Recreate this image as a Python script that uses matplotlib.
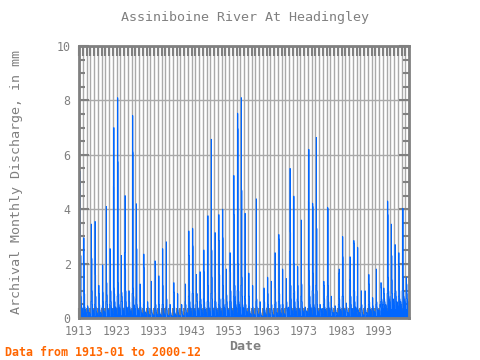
# -*- coding: utf-8 -*-
"""
Assiniboine River At Headingley - archival monthly discharge
"""
import matplotlib
matplotlib.use('Agg')
import matplotlib.pyplot as plt
import numpy as np

# monthly discharge (mm), one row per year, Jan..Dec
flow_1910s = [
    [.2, .15, 1.3, 5.4, 2.05, 2.3, .8, .5, .4, .35, .3, .2],      # 1913
    [.15, .1, .5, 2.95, 2.0, .9, .4, .3, .25, .3, .2, .15],       # 1914
    [.1, .08, .2, .45, .4, .3, .2, .15, .15, .2, .15, .1],        # 1915
    [.1, .08, .6, 3.45, 2.2, 1.0, .5, .3, .25, .3, .2, .12],      # 1916
    [.1, .1, .5, 3.55, 1.6, .8, .4, .25, .2, .2, .15, .1],        # 1917
    [.08, .06, .3, 1.2, .9, .5, .3, .2, .15, .2, .15, .1],        # 1918
    [.08, .07, .4, 1.95, .95, .6, .3, .2, .2, .25, .2, .1],       # 1919
]
flow_1920s = [
    [.1, .08, .6, 4.1, 1.3, .85, .5, .3, .25, .3, .2, .12],
    [.1, .08, .5, 2.55, 2.0, 1.0, .6, .4, .3, .35, .25, .15],
    [.12, .1, 4.85, 7.0, 1.1, .9, .6, .4, .35, .4, .3, .2],
    [.15, .12, .8, 8.1, 5.75, 1.3, .9, .5, .4, .4, .3, .2],
    [.15, .12, .6, 2.3, .95, .8, .6, .4, .3, .3, .25, .15],
    [.15, .12, 2.4, 4.5, 1.8, 1.0, .6, .4, .35, .4, .3, .2],
    [.15, .12, .4, 1.0, 1.0, .6, .4, .3, .3, .3, .25, .15],
    [.15, .12, .9, 7.45, 6.1, 1.1, .8, .5, .4, .45, .35, .2],
    [.15, .12, .7, 4.2, 2.55, .5, .4, .3, .25, .3, .25, .15],
    [.1, .08, .4, 1.25, .6, .4, .3, .2, .2, .2, .15, .1],
]
flow_1930s = [
    [.1, .08, .5, 2.35, 1.85, .3, .25, .2, .15, .2, .15, .1],
    [.08, .06, .2, .6, .4, .25, .15, .1, .1, .12, .1, .08],
    [.06, .05, .3, 1.35, .3, .2, .15, .1, .1, .12, .1, .08],
    [.06, .05, .4, 2.1, 1.85, .5, .3, .2, .15, .15, .12, .08],
    [.06, .05, .3, 1.55, .5, .3, .2, .12, .1, .12, .1, .06],
    [.06, .05, .5, 2.55, 1.2, .5, .3, .2, .15, .15, .12, .08],
    [.06, .05, .4, 2.8, .7, .3, .15, .1, .08, .1, .08, .06],
    [.05, .04, .15, .5, .3, .2, .12, .08, .06, .08, .06, .05],
    [.05, .04, .3, 1.3, .95, .4, .2, .15, .1, .12, .1, .06],
    [.05, .04, .25, .9, .3, .2, .15, .1, .08, .1, .08, .05],
]
flow_1940s = [
    [.05, .04, .1, .3, .5, .25, .15, .1, .08, .1, .08, .05],
    [.05, .04, .2, .6, 1.25, .5, .3, .2, .15, .2, .15, .1],
    [.1, .08, .8, 3.2, 2.3, 1.0, .6, .4, .3, .35, .25, .15],
    [.12, .1, .9, 3.3, 2.65, .9, .5, .35, .3, .3, .25, .15],
    [.12, .1, .5, 1.6, .8, .9, .6, .4, .3, .3, .25, .15],
    [.12, .1, .6, 1.7, 1.0, .7, .5, .3, .25, .3, .2, .12],
    [.12, .1, .7, 2.5, 1.7, .6, .4, .3, .25, .3, .2, .12],
    [.12, .1, .6, 3.64, 3.76, 1.2, .6, .4, .3, .3, .25, .15],
    [.12, .1, .9, 6.57, 2.5, 1.5, .7, .4, .3, .3, .25, .15],
    [.12, .1, .6, 3.14, .95, .6, .4, .3, .25, .3, .2, .12],
]
flow_1950s = [
    [.1, .08, .5, 3.8, 2.85, 1.6, .7, .4, .3, .3, .25, .15],
    [.12, .1, .7, 4.0, 2.95, 1.2, .7, .5, .4, .4, .3, .18],
    [.12, .1, .5, 1.8, .85, .6, .4, .3, .25, .3, .2, .12],
    [.1, .08, .6, 2.4, 1.7, 1.0, .6, .4, .3, .3, .25, .15],
    [.12, .1, .8, 5.24, 3.8, 2.0, 1.2, .8, .6, .5, .4, .25],
    [.2, .15, 1.0, 7.53, 6.96, 2.0, 1.0, .6, .5, .5, .4, .25],
    [.2, .15, 1.2, 8.1, 4.7, 1.5, .8, .5, .4, .4, .35, .2],
    [.15, .12, .8, 3.85, .7, .5, .35, .25, .2, .25, .2, .12],
    [.1, .08, .4, 1.65, .8, .4, .25, .15, .12, .15, .12, .08],
    [.08, .06, .3, 1.2, .4, .3, .2, .12, .1, .12, .1, .06],
]
flow_1960s = [
    [.06, .05, .6, 4.38, .7, .4, .25, .15, .12, .15, .12, .08],
    [.06, .05, .2, .6, .3, .2, .12, .08, .06, .08, .06, .05],
    [.05, .04, .3, 1.1, 1.1, .6, .3, .2, .15, .15, .12, .08],
    [.06, .05, .4, 1.5, .9, .5, .3, .2, .15, .15, .12, .08],
    [.06, .05, .3, 1.35, .5, .3, .2, .12, .1, .12, .1, .06],
    [.06, .05, .5, 2.4, 1.1, .6, .35, .2, .15, .2, .15, .1],
    [.08, .06, .6, 3.07, 2.9, .9, .5, .3, .2, .2, .15, .1],
    [.1, .08, .5, 1.8, .5, .3, .2, .15, .12, .15, .12, .08],
    [.06, .05, .4, 1.45, .6, .35, .25, .2, .3, .4, .3, .2],
    [.15, .12, 2.45, 5.5, 3.16, 1.2, .7, .4, .3, .3, .25, .15],
]
flow_1970s = [
    [.12, .1, .9, 4.48, 2.0, 1.0, .6, .4, .3, .3, .25, .15],
    [.12, .1, .7, 1.9, 1.2, .6, .4, .3, .25, .3, .25, .15],
    [.12, .1, .8, 3.6, 1.25, .6, .4, .3, .25, .25, .2, .12],
    [.1, .08, .3, .4, .4, .3, .25, .2, .2, .25, .2, .15],
    [.12, .1, 4.3, 6.2, 1.75, 1.2, .8, .5, .4, .4, .3, .2],
    [.15, .12, 1.0, 4.22, 4.1, 1.65, .9, .5, .4, .4, .3, .2],
    [.15, .12, 1.2, 6.64, 3.3, 1.0, .5, .3, .25, .25, .2, .12],
    [.1, .08, .3, .5, .4, .3, .25, .2, .3, .35, .25, .15],
    [.12, .1, .5, 1.35, 1.2, .7, .4, .3, .25, .3, .25, .15],
    [.12, .1, .8, 4.07, 4.03, 1.2, .6, .4, .3, .3, .25, .15],
]
flow_1980s = [
    [.12, .1, .3, .8, .4, .3, .2, .15, .15, .2, .15, .1],
    [.1, .08, .2, .45, .4, .3, .2, .15, .15, .2, .15, .1],
    [.1, .08, .5, 1.65, 1.8, .7, .4, .3, .25, .3, .25, .15],
    [.12, .1, .8, 3.0, 2.25, .8, .4, .3, .25, .3, .25, .15],
    [.12, .1, .3, .55, .4, .3, .2, .15, .15, .2, .15, .1],
    [.1, .08, 1.4, 2.25, 1.4, .8, .5, .35, .3, .35, .3, .2],
    [.15, .12, 1.0, 2.85, 2.75, 1.0, .6, .4, .35, .4, .3, .2],
    [.15, .12, .8, 2.6, .25, .3, .2, .15, .15, .2, .15, .1],
    [.1, .08, .4, 1.0, .5, .3, .2, .12, .1, .12, .1, .08],
    [.08, .07, .4, 1.0, .5, .3, .2, .15, .15, .2, .15, .1],
]
flow_1990s = [
    [.1, .08, .5, 1.6, 1.25, .6, .4, .3, .25, .3, .25, .15],
    [.12, .1, .3, .75, .45, .35, .25, .2, .2, .25, .2, .15],
    [.12, .1, .5, 1.8, .6, .4, .3, .25, .25, .3, .25, .15],
    [.15, .12, .3, .5, .4, .6, 1.3, 1.1, .7, .6, .5, .35],
    [.3, .25, .5, 1.1, .9, .7, .6, .5, .45, .5, .45, .35],
    [.3, .28, .9, 4.3, 3.8, 1.5, 1.0, .8, .7, .7, .6, .45],
    [.4, .35, .8, 3.45, 2.3, 1.4, .9, .7, .6, .7, .6, .45],
    [.4, .35, .9, 2.7, 1.9, 1.0, .8, .6, .55, .6, .55, .45],
    [.4, .35, .8, 2.4, 1.9, 1.0, .7, .6, .55, .6, .5, .4],
    [.35, .3, 1.0, 4.03, 4.03, 1.5, 1.0, .8, .7, .7, .6, .45],
]
flow_2000s = [
    [.4, .35, .7, 1.5, 1.25, .9, .7, .6, .55, .6, .5, .4],
]

first_year = 1913
rows = (flow_1910s + flow_1920s + flow_1930s + flow_1940s + flow_1950s
        + flow_1960s + flow_1970s + flow_1980s + flow_1990s + flow_2000s)
vals = np.array(rows).ravel()
t = first_year + np.arange(len(vals)) / 12.0
t = np.append(t, t[-1] + 1 / 12.0)
vals = np.append(vals, vals[-1])

gray = '#808080'
fig = plt.figure(figsize=(4.8, 3.6), dpi=100)
ax = fig.add_axes([79 / 480, 1 - 318 / 360, 330 / 480, 272 / 360])

ax.fill_between(t, 0, vals, step='post', color='#0066ff', linewidth=0, zorder=3)
ax.step(t, vals, where='post', color='#0066ff', linewidth=0.6, zorder=3)

ax.set_xlim(1913, 2001)
ax.set_ylim(0, 10)

years = np.arange(1913, 2002)
ax.set_xticks(years)
ax.set_xticklabels([str(y) if (y - 1913) % 10 == 0 and y < 2000 else '' for y in years])
ax.set_yticks(np.arange(0, 11, 2))
ax.set_yticks(np.arange(0, 10.01, 0.5), minor=True)

ax.grid(True, axis='x', color='#aaaaaa', linewidth=1, zorder=1)
ax.grid(True, axis='y', which='major', color='#aaaaaa', linewidth=1, zorder=1)
ax.set_axisbelow(True)

for s in ax.spines.values():
    s.set_color(gray)
    s.set_linewidth(2)
    s.set_zorder(5)

mono = 'DejaVu Sans Mono'
ax.tick_params(axis='x', which='major', direction='in', length=7, width=1.5,
               color=gray, top=True, bottom=True, labelsize=8.4,
               labelcolor=gray, pad=5)
ax.tick_params(axis='y', which='major', direction='in', length=7, width=1.5,
               color=gray, left=True, right=True, labelsize=8.4,
               labelcolor=gray, pad=6)
ax.tick_params(axis='y', which='minor', direction='in', length=4, width=1.5,
               color=gray, left=True, right=True)
for lab in ax.get_xticklabels() + ax.get_yticklabels():
    lab.set_fontfamily(mono)

fig.text(245 / 480, 1 - 17 / 360, 'Assiniboine River At Headingley',
         ha='center', va='center', fontsize=9.6, color=gray, family=mono)
fig.text(245 / 480, 1 - 347 / 360, 'Date', ha='center', va='center',
         fontsize=9.6, color=gray, family=mono, fontweight='bold')
fig.text(17 / 480, 1 - 182 / 360, 'Archival Monthly Discharge, in mm',
         ha='center', va='center', rotation=90, fontsize=9.6, color=gray,
         family=mono)
fig.text(5 / 480, 1 - 352 / 360, 'Data from 1913-01 to 2000-12', ha='left',
         va='center', fontsize=8.4, color='#ff6600', family=mono,
         fontweight='bold')

fig.savefig('out.png', dpi=100)
